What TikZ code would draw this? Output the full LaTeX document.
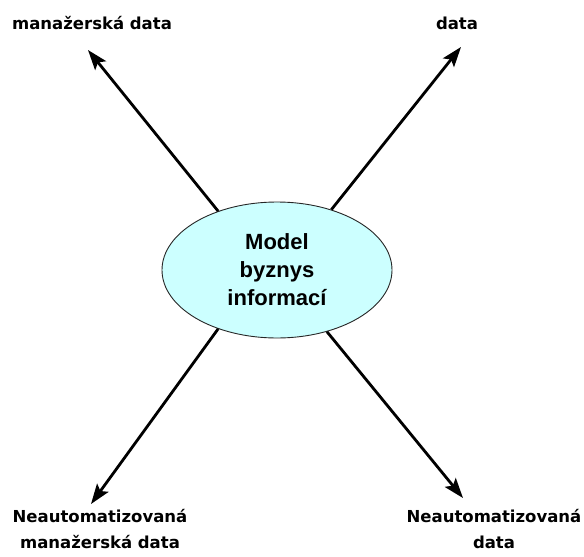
\documentclass[tikz,border=0pt]{standalone}
\usepackage{fontspec}
\setmainfont{Liberation Sans}
\newfontfamily\labelfont{DejaVu Sans}
\usetikzlibrary{shapes.geometric,arrows.meta}
\begin{document}
\begin{tikzpicture}[x=1pt,y=-1pt,
  hub/.style={ellipse,draw=black!85,line width=0.9pt,fill={rgb,255:red,204;green,255;blue,255},
    minimum width=230pt,minimum height=136pt,inner sep=0pt,align=center,
    font=\fontsize{22}{28}\selectfont\bfseries},
  tag/.style={align=center,font=\labelfont\fontsize{16.5}{26}\selectfont\bfseries},
  flow/.style={line width=2.8pt,-{Stealth[length=20pt,width=14pt,inset=4pt]}}]
\useasboundingbox (0,0) rectangle (584,557);
\node[hub] (model) at (277,270) {Model\\byznys\\informací};
\coordinate (tl) at (88,50);
\coordinate (tr) at (461,47);
\coordinate (bl) at (91,504);
\coordinate (br) at (463,498);
\draw[flow] (model.135) -- (tl);
\draw[flow] (model.48) -- (tr);
\draw[flow] (model.225) -- (bl);
\draw[flow] (model.309) -- (br);
\node[tag] (mtop) at (92,23) {manažerská data};
\node[tag] (dtop) at (457,23) {data};
\node[tag,anchor=north] (mbot) at (100,506) {Neautomatizovaná\\manažerská data};
\node[tag,anchor=north] (dbot) at (494,506) {Neautomatizovaná\\data};
\end{tikzpicture}
\end{document}
